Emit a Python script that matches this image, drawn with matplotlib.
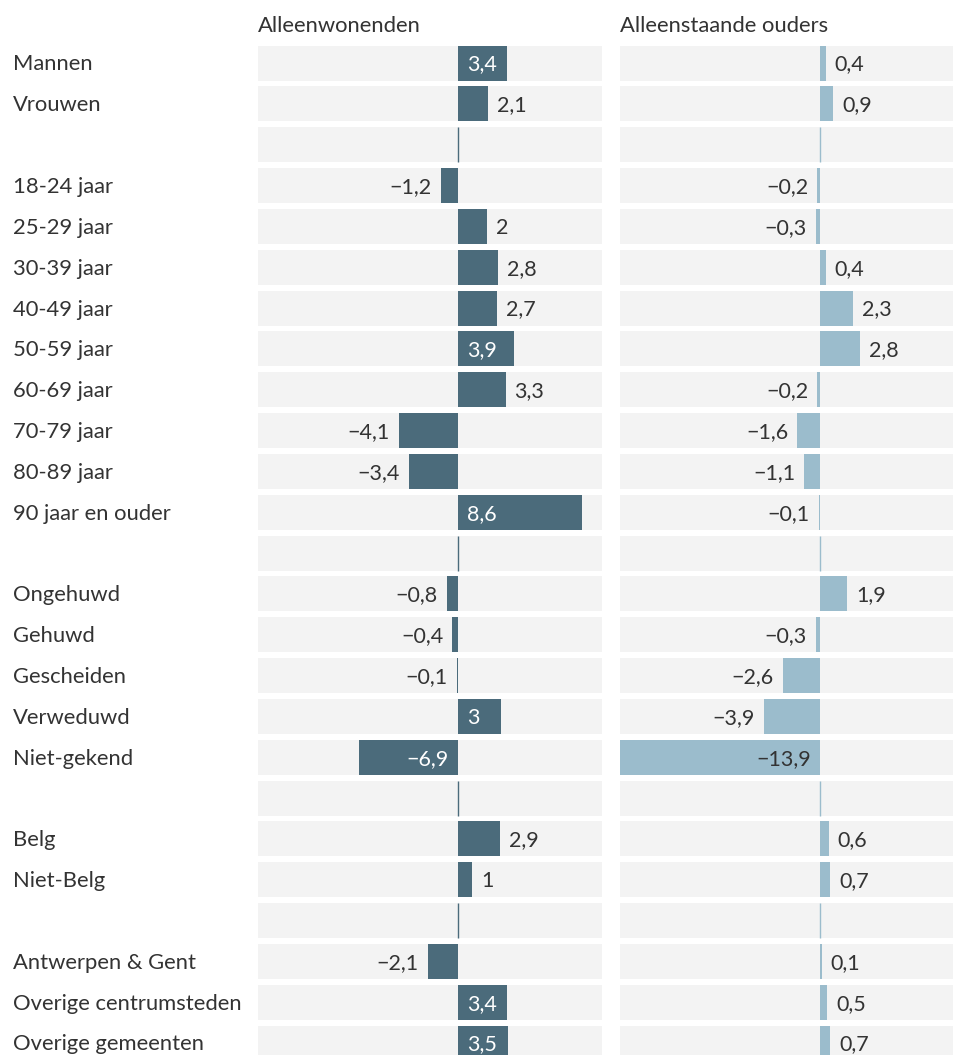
import matplotlib
matplotlib.use("Agg")
import matplotlib.pyplot as plt

plt.rcParams['font.family'] = ['Lato', 'DejaVu Sans']

# rows; None marks an empty spacer row
categories = [
    "Mannen", "Vrouwen", None,
    "18-24 jaar", "25-29 jaar", "30-39 jaar", "40-49 jaar", "50-59 jaar",
    "60-69 jaar", "70-79 jaar", "80-89 jaar", "90 jaar en ouder", None,
    "Ongehuwd", "Gehuwd", "Gescheiden", "Verweduwd", "Niet-gekend", None,
    "Belg", "Niet-Belg", None,
    "Antwerpen & Gent", "Overige centrumsteden", "Overige gemeenten",
]
alleenwonenden = [
    3.4, 2.1, None,
    -1.2, 2, 2.8, 2.7, 3.9, 3.3, -4.1, -3.4, 8.6, None,
    -0.8, -0.4, -0.1, 3, -6.9, None,
    2.9, 1, None,
    -2.1, 3.4, 3.5,
]
alleenstaande_ouders = [
    0.4, 0.9, None,
    -0.2, -0.3, 0.4, 2.3, 2.8, -0.2, -1.6, -1.1, -0.1, None,
    1.9, -0.3, -2.6, -3.9, -13.9, None,
    0.6, 0.7, None,
    0.1, 0.5, 0.7,
]
panel_titles = ["Alleenwonenden", "Alleenstaande ouders"]

W, H = 954, 1055
XMIN, XMAX = -13.9, 10.0
BAND = "#f3f3f3"
TEXT = "#333333"
FS = 15.8        # row labels and titles
VFS = 15.5       # value labels


def fmt(v):
    s = f"{v:g}".replace(".", ",")
    return s.replace("-", "\u2212")


fig = plt.figure(figsize=(W / 100, H / 100), dpi=100)
renderer = fig.canvas.get_renderer()

n = len(categories)
row_h = (1043 - 63) / (n - 1)
top_px = 63 - row_h / 2
bot_px = 1043 + row_h / 2
ax_bottom = 1 - bot_px / H
ax_height = (bot_px - top_px) / H
band_h = 35 / row_h
dy = 1.5 / row_h   # nudge text down a little

panels = [
    (258, alleenwonenden, "#4b6b7b", "white"),
    (620, alleenstaande_ouders, "#9bbccc", TEXT),
]

for (x0, values, color, inner_text), title in zip(panels, panel_titles):
    ax = fig.add_axes([x0 / W, ax_bottom, 344 / W, ax_height])
    ax.set_xlim(XMIN, XMAX)
    ax.set_ylim(n - 0.5, -0.5)
    ax.axis("off")
    rows = range(n)
    ax.barh(rows, XMAX - XMIN, left=XMIN, height=band_h, color=BAND, lw=0)
    px_per_unit = 344 / (XMAX - XMIN)
    pad = 9 / px_per_unit
    for i, v in enumerate(values):
        if v is None:
            ax.vlines(0, i - band_h / 2, i + band_h / 2, color=color, lw=1)
            continue
        ax.barh(i, v, height=band_h, color=color, lw=0)
        t = ax.text(0, i + dy, fmt(v), fontsize=15, va="center", color=TEXT)
        tw = t.get_window_extent(renderer).width
        t.set_fontsize(VFS)
        bar_w = abs(v) * px_per_unit
        if tw + 19 <= bar_w:
            # label sits inside the bar, next to the zero line
            t.set_color(inner_text)
            t.set_x(pad if v > 0 else -pad)
        else:
            t.set_x(v + pad if v > 0 else v - pad)
        t.set_ha("left" if v > 0 else "right")
    fig.text(x0 / W, 1 - 26.5 / H, title, fontsize=FS, color=TEXT, va="center")

for i, cat in enumerate(categories):
    if cat is None:
        continue
    y = 1 - (64.5 + i * row_h) / H
    fig.text(13 / W, y, cat, fontsize=FS, color=TEXT, va="center")

fig.savefig("out.png", dpi=100)
